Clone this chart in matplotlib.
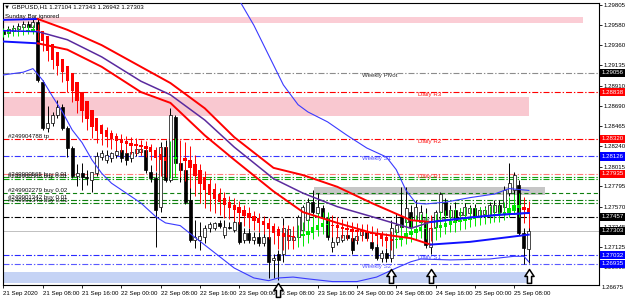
import numpy as np
import matplotlib
matplotlib.use("Agg")
import matplotlib.pyplot as plt
from matplotlib.path import Path
from matplotlib.transforms import blended_transform_factory

plt.rcParams['font.family'] = ['Liberation Sans', 'DejaVu Sans']
plt.rcParams['lines.scale_dashes'] = False

# ---------------- data (GBPUSD H1) ----------------
opens = [1.2952, 1.2949, 1.2952, 1.2954, 1.2956, 1.2959, 1.2956, 1.2962, 1.2895, 1.2844,
         1.2850, 1.2859, 1.2867, 1.2844, 1.2822, 1.2791, 1.2794, 1.2790, 1.2787, 1.2794,
         1.2812, 1.2809, 1.2811, 1.2814, 1.2820, 1.2816, 1.2811, 1.2816, 1.2818, 1.2820,
         1.2795, 1.2789, 1.2757, 1.2823, 1.2787, 1.2856, 1.2805, 1.2798, 1.2764, 1.2720,
         1.2720, 1.2723, 1.2733, 1.2733, 1.2739, 1.2726, 1.2735, 1.2731, 1.2740, 1.2720,
         1.2728, 1.2720, 1.2723, 1.2717, 1.2723, 1.2698, 1.2704, 1.2704, 1.2720, 1.2720,
         1.2723, 1.2731, 1.2742, 1.2762, 1.2750, 1.2756, 1.2745, 1.2712, 1.2718, 1.2720,
         1.2726, 1.2722, 1.2720, 1.2726, 1.2729, 1.2718, 1.2712, 1.2700, 1.2706, 1.2700,
         1.2729, 1.2746, 1.2740, 1.2751, 1.2742, 1.2740, 1.2740, 1.2712, 1.2735, 1.2751,
         1.2762, 1.2746, 1.2753, 1.2748, 1.2748, 1.2750, 1.2756, 1.2746, 1.2749, 1.2748,
         1.2751, 1.2759, 1.2757, 1.2772, 1.2776, 1.2781, 1.2728, 1.27104]
highs = [1.2955, 1.2957, 1.2958, 1.2961, 1.2963, 1.2963, 1.2966, 1.2966, 1.2897, 1.2869,
         1.2862, 1.2875, 1.2871, 1.2846, 1.2824, 1.2804, 1.2805, 1.2798, 1.2795, 1.2818,
         1.2820, 1.2820, 1.2818, 1.2822, 1.2825, 1.2824, 1.2821, 1.2824, 1.2823, 1.2822,
         1.2803, 1.2795, 1.2829, 1.2831, 1.2866, 1.2859, 1.2809, 1.2820, 1.2789, 1.2742,
         1.2740, 1.2737, 1.2740, 1.2740, 1.2742, 1.2742, 1.2740, 1.2745, 1.2742, 1.2733,
         1.2733, 1.2729, 1.2729, 1.2729, 1.2725, 1.2704, 1.2709, 1.2745, 1.2735, 1.2729,
         1.2748, 1.2759, 1.2767, 1.2776, 1.2772, 1.2759, 1.2748, 1.2725, 1.2727, 1.2729,
         1.2731, 1.2727, 1.2729, 1.2735, 1.2733, 1.2723, 1.2717, 1.2709, 1.2711, 1.2742,
         1.2750, 1.2779, 1.2779, 1.2759, 1.2764, 1.2759, 1.2756, 1.2737, 1.2753, 1.2773,
         1.2767, 1.2759, 1.2762, 1.2756, 1.2761, 1.2759, 1.2760, 1.2757, 1.2758, 1.2762,
         1.2764, 1.2764, 1.2780, 1.2805, 1.2795, 1.2787, 1.2733, 1.27343]
lows = [1.2945, 1.2947, 1.2949, 1.2952, 1.2954, 1.2953, 1.2954, 1.2895, 1.2842, 1.2840,
        1.2846, 1.2855, 1.2842, 1.2812, 1.2789, 1.2780, 1.2776, 1.2781, 1.2773, 1.2791,
        1.2809, 1.2805, 1.2807, 1.2811, 1.2807, 1.2803, 1.2807, 1.2813, 1.2814, 1.2794,
        1.2784, 1.2712, 1.2751, 1.2784, 1.2784, 1.2798, 1.2784, 1.2760, 1.2718, 1.2711,
        1.2709, 1.2717, 1.2729, 1.2731, 1.2733, 1.2722, 1.2732, 1.2729, 1.2716, 1.2717,
        1.2717, 1.2716, 1.2713, 1.2713, 1.2678, 1.2678, 1.2676, 1.2696, 1.2716, 1.2718,
        1.2720, 1.2728, 1.2740, 1.2749, 1.2747, 1.2742, 1.2720, 1.2707, 1.2715, 1.2718,
        1.2720, 1.2705, 1.2716, 1.2722, 1.2720, 1.2709, 1.2698, 1.2696, 1.2696, 1.2696,
        1.2725, 1.2731, 1.2733, 1.2731, 1.2738, 1.2736, 1.2711, 1.2705, 1.2731, 1.2748,
        1.2746, 1.2742, 1.2731, 1.2745, 1.2745, 1.2747, 1.2743, 1.2743, 1.2745, 1.2746,
        1.2748, 1.2745, 1.2753, 1.2769, 1.2770, 1.2726, 1.2693, 1.26942]
closes = [1.2948, 1.2954, 1.2955, 1.2957, 1.2959, 1.2956, 1.2962, 1.2897, 1.2844, 1.2850,
          1.2859, 1.2867, 1.2844, 1.2822, 1.2791, 1.2794, 1.2790, 1.2789, 1.2795, 1.2813,
          1.2816, 1.2814, 1.2816, 1.2819, 1.2811, 1.2809, 1.2818, 1.2821, 1.2821, 1.2798,
          1.2789, 1.2753, 1.2823, 1.2787, 1.2859, 1.2805, 1.2798, 1.2762, 1.2720, 1.2723,
          1.2725, 1.2733, 1.2738, 1.2739, 1.2736, 1.2735, 1.2733, 1.2740, 1.2718, 1.2728,
          1.2720, 1.2723, 1.2717, 1.2723, 1.2696, 1.2700, 1.2698, 1.2733, 1.2732, 1.2723,
          1.2746, 1.2757, 1.2762, 1.2751, 1.2757, 1.2745, 1.2723, 1.2718, 1.2723, 1.2726,
          1.2722, 1.2709, 1.2725, 1.2731, 1.2722, 1.2711, 1.2700, 1.2706, 1.2700, 1.2733,
          1.2737, 1.2735, 1.2756, 1.2735, 1.2757, 1.2751, 1.2715, 1.2733, 1.2751, 1.2771,
          1.2748, 1.2753, 1.2742, 1.2751, 1.2757, 1.2756, 1.2746, 1.2753, 1.2753, 1.2759,
          1.2759, 1.2751, 1.2776, 1.2783, 1.2792, 1.2728, 1.2711, 1.27303]

time_label_bars = [0, 8, 16, 24, 32, 40, 48, 56, 64, 72, 80, 88, 96, 104]
time_labels = ["21 Sep 2020", "21 Sep 08:00", "21 Sep 16:00", "22 Sep 00:00", "22 Sep 08:00",
               "22 Sep 16:00", "23 Sep 00:00", "23 Sep 08:00", "23 Sep 16:00", "24 Sep 00:00",
               "24 Sep 08:00", "24 Sep 16:00", "25 Sep 00:00", "25 Sep 08:00"]
price_ticks = [1.29805, 1.29580, 1.29360, 1.29135, 1.28910, 1.28690, 1.28465, 1.28240,
               1.28015, 1.27795, 1.27570, 1.27345, 1.27125, 1.26900]
price_tick_below = 1.26675

pivot_names = ["Weekly Pivot", "Daily R3", "Daily R2", "Weekly S1", "Daily R1",
               "Daily Pivot", "Daily S1", "Weekly S2"]
pivot_prices = [1.29056, 1.28838, 1.28320, 1.28126, 1.27935, 1.27457, 1.27032, 1.26935]
current_price = 1.27303

# MA channel (upper / middle / lower) read at bar positions
ch_bars = [0, 7, 13, 20, 28, 34, 41, 47, 55, 61, 68, 75, 83, 87, 95, 101, 107]
ch_upper = [1.2964, 1.2965, 1.2953, 1.2936, 1.2912, 1.2894, 1.2866, 1.2834, 1.2800, 1.2792,
            1.2779, 1.2761, 1.2742, 1.2740, 1.2745, 1.2748, 1.2750]
ch_mid = [1.2952, 1.2951, 1.2942, 1.2923, 1.2896, 1.2881, 1.2853, 1.2823, 1.2788, 1.2772,
          1.2757, 1.2746, 1.2733, 1.2740, 1.2745, 1.2748, 1.2750]
ch_lower = [1.2940, 1.2938, 1.2931, 1.2912, 1.2884, 1.2872, 1.2836, 1.2809, 1.2774, 1.2751,
            1.2739, 1.2728, 1.2722, 1.2715, 1.2718, 1.2722, 1.2726]

# thin band lines
bb_lower_bars = [0, 4, 6, 8, 10, 12, 14, 16, 18, 20, 22, 25, 28, 31, 33, 36, 39, 43, 47, 51,
                 54, 56, 59, 62, 67, 72, 76, 80, 83, 85, 91, 99, 104, 106, 107]
bb_lower = [1.2903, 1.2906, 1.2910, 1.2897, 1.2879, 1.2862, 1.2842, 1.2828, 1.2809, 1.2794,
            1.2783, 1.2772, 1.2761, 1.2746, 1.2739, 1.2736, 1.2723, 1.2706, 1.2689, 1.2678,
            1.2675, 1.2678, 1.2679, 1.2677, 1.2674, 1.2674, 1.2679, 1.2689, 1.2696, 1.2699,
            1.2698, 1.2699, 1.2702, 1.2702, 1.2696]
bb_upper_bars = [47, 48, 51, 54, 57, 60, 62, 66, 70, 74, 78, 80, 82, 84, 86, 90, 95, 100, 103, 107]
bb_upper = [1.2992, 1.2986, 1.2958, 1.2925, 1.2892, 1.2870, 1.2862, 1.2851, 1.2836, 1.2822,
            1.2812, 1.2798, 1.2775, 1.2761, 1.2760, 1.2762, 1.2767, 1.2771, 1.2777, 1.2775]

# zones: start bar, end bar, low, high
zone_start = [-1, -1, 63.3, -1]
zone_end = [118, 107, 110.2, 107]
zone_low = [1.29605, 1.28575, 1.27699, 1.26724]
zone_high = [1.29672, 1.28785, 1.27788, 1.26846]

# order lines and labels
order_prices = [1.27900, 1.27880, 1.27720, 1.27640, 1.27610]
order_label_texts = ["#249904788 tp", "#249900565 buy 0.01", "#249900566 buy 0.01",
                     "#249902279 buy 0.02", "#249901342 buy 0.01", "#249901343 buy 0.01"]
order_label_prices = [1.28320, 1.27900, 1.27880, 1.27720, 1.27640, 1.27610]

# signal arrows
arrow_bars = [56, 79, 87, 107]
arrow_prices = [1.26724, 1.26879, 1.26879, 1.26879]

# ---------------- figure ----------------
o = np.array(opens); h = np.array(highs); l = np.array(lows); c = np.array(closes)
n = len(c)
xb = np.arange(n)
FS = 4.4

fig = plt.figure(figsize=(6.25, 3.02), dpi=100)
ax = fig.add_axes([3 / 625, 17 / 302, 596 / 625, 282 / 302])
ax.set_xlim(-0.1, 121.3)
ax.set_ylim(1.26702, 1.29827)

# zones
zone_colors = ['#fbcdd5', '#f9c8d0', '#c6c6c6', '#c5d3f5']
for x0, x1, lo, hi, col in zip(zone_start, zone_end, zone_low, zone_high, zone_colors):
    ax.fill_between([x0, x1], lo, hi, color=col, lw=0, zorder=0.5)

# pivot lines
dashdot = (0, (4.3, 1.4, 1.0, 1.4))
pivot_line_colors = ['#8c8c8c', '#ff0000', '#ff0000', '#3535ff', '#ff7a7a', '#000000', '#2a2aff', '#5a5aff']
pivot_text_colors = ['#303030', '#ff1010', '#ff1010', '#4a4aff', '#ff3030', '#202020', '#4a4aff', '#5a5aff']
pivot_box_colors = ['#000000', '#ff0000', '#ff0000', '#0000ff', '#ff0000', '#000000', '#0000ff', '#0000ff']
pivot_label_x = [73, 84.5, 84.5, 73, 84.5, 84, 84.5, 73]
for p, lc, tc, lx, name in zip(pivot_prices, pivot_line_colors, pivot_text_colors, pivot_label_x, pivot_names):
    ax.axhline(p, color=lc, lw=0.8, ls=dashdot, zorder=1)
    ax.text(lx, p, name, color=tc, fontsize=FS, va='top', ha='left', zorder=2)

# order lines
order_styles = [dashdot, dashdot, (0, (3, 2)), dashdot, dashdot]
order_colors = ['#10a010', '#10a010', '#108010', '#108010', '#108010']
for p, st, col in zip(order_prices, order_styles, order_colors):
    ax.axhline(p, color=col, lw=0.8, ls=st, zorder=1)
for t, p in zip(order_label_texts, order_label_prices):
    ax.text(1.0, p, t, fontsize=FS, va='bottom', ha='left', color='#101010', zorder=2)

# current price line
ax.axhline(current_price, color='#c0c0c0', lw=0.7, zorder=1)

# candles
up = c >= o
ax.vlines(xb, l, h, color='black', lw=0.7, zorder=3)
body_h = np.where(np.abs(c - o) < 0.00003, 0.00003, c - o)
ax.bar(xb, body_h, bottom=o, width=0.62, color=np.where(up, 'white', 'black'),
       edgecolor='black', lw=0.5, zorder=3.1)

# smoothed Heiken Ashi
def smma(v, period):
    out = np.empty(len(v)); out[0] = v[0]
    for k in range(1, len(v)):
        out[k] = (out[k - 1] * (period - 1) + v[k]) / period
    return out
so, sh, sl, sc = smma(o, 8), smma(h, 8), smma(l, 8), smma(c, 8)
hc = (so + sh + sl + sc) / 4
ho = np.empty(n); ho[0] = (so[0] + sc[0]) / 2
for k in range(1, n):
    ho[k] = (ho[k - 1] + hc[k - 1]) / 2
hh = np.maximum.reduce([sh, ho, hc]); hl = np.minimum.reduce([sl, ho, hc])
ha_col = np.where(hc >= ho, '#00e600', '#ff0000')
ax.vlines(xb, hl, hh, color=ha_col, lw=0.7, zorder=4)
ax.bar(xb, hc - ho, bottom=ho, width=0.68, color=ha_col, lw=0, zorder=4.1)

# thin bands
ax.plot(bb_lower_bars, bb_lower, color='#3a3aff', lw=0.8, zorder=4.5)
ax.plot(bb_upper_bars, bb_upper, color='#3a3aff', lw=0.8, zorder=4.5)

# MA channel
cb = np.array(ch_bars)
red = (cb >= 7) & (cb <= 87)
pre = cb <= 7
post = cb >= 87
for mask, col_ul, col_m in [(pre, '#1010ff', '#1010ff'), (red, '#ff0000', '#5a2a9e'), (post, '#1010ff', '#1010ff')]:
    ax.plot(cb[mask], np.array(ch_upper)[mask], color=col_ul, lw=1.4, zorder=5)
    ax.plot(cb[mask], np.array(ch_lower)[mask], color=col_ul, lw=1.4, zorder=5)
    ax.plot(cb[mask], np.array(ch_mid)[mask], color=col_m, lw=1.1, zorder=5.1)

# arrows
arrow_path = Path([(0, 0), (0.33, -0.5), (0.15, -0.5), (0.15, -1.0), (-0.15, -1.0),
                   (-0.15, -0.5), (-0.33, -0.5), (0, 0)],
                  [Path.MOVETO] + [Path.LINETO] * 6 + [Path.CLOSEPOLY])
ax.scatter(arrow_bars, arrow_prices, marker=arrow_path, s=400, facecolor='white',
           edgecolor='black', linewidths=1.1, zorder=8, clip_on=False)

# axes styling
for sp in ax.spines.values():
    sp.set_color('black'); sp.set_linewidth(0.8)
ax.yaxis.tick_right()
ax.set_yticks(price_ticks)
ax.set_yticklabels([f"{p:.5f}" for p in price_ticks])
ax.tick_params(axis='y', direction='out', length=2, width=0.6, pad=1.5, labelsize=FS)
ax.set_xticks(time_label_bars)
ax.set_xticklabels(time_labels, ha='left')
ax.tick_params(axis='x', direction='out', length=2.5, width=0.6, pad=1.5, labelsize=FS)

trans = blended_transform_factory(ax.transAxes, ax.transData)
ax.text(1.0045, price_tick_below, f"{price_tick_below:.5f}", transform=trans, fontsize=FS,
        va='center', ha='left', clip_on=False)
box_prices = pivot_prices + [current_price]
box_cols = pivot_box_colors + ['#000000']
for p, col in zip(box_prices, box_cols):
    ax.text(1.0045, p, f"{p:.5f}", transform=trans, fontsize=FS, color='white', va='center',
            ha='left', zorder=10, clip_on=False,
            bbox=dict(boxstyle='square,pad=0.25', fc=col, ec='none'))

title = f"\u25BC GBPUSD,H1 {opens[-1]:.5f} {highs[-1]:.5f} {lows[-1]:.5f} {closes[-1]:.5f}"
ax.text(0.002, 0.985, title, transform=ax.transAxes, fontsize=FS, va='center', ha='left', zorder=11)
ax.text(0.003, 0.953, "Sunday Bar ignored", transform=ax.transAxes, fontsize=FS, va='center',
        ha='left', zorder=11)

fig.savefig('out.png', dpi=100)
